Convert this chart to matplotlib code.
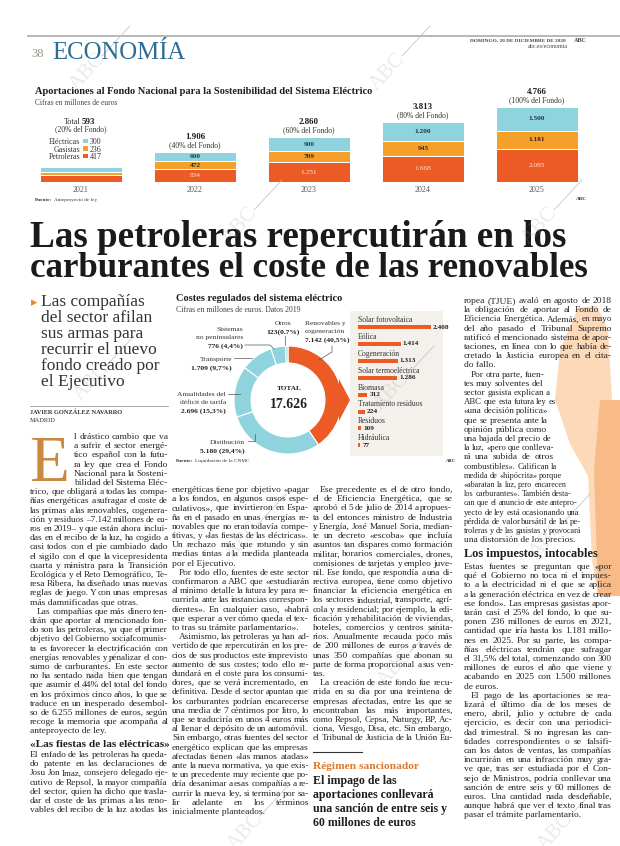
import matplotlib
matplotlib.use("Agg")
import matplotlib.pyplot as plt
from matplotlib.transforms import Affine2D
from matplotlib.patches import Polygon, Rectangle
from matplotlib.lines import Line2D

plt.rcParams["font.family"] = ["Liberation Serif", "DejaVu Serif", "DejaVu Sans"]

# ---- Aportaciones al Fondo (millones de euros)
anios = ["2021", "2022", "2023", "2024", "2025"]
electricas = [300, 600, 900, 1200, 1500]
gasistas = [236, 472, 709, 945, 1181]
petroleras = [417, 834, 1251, 1668, 2085]
totales = ["593", "1.906", "2.860", "3.813", "4.766"]
pct_fondo = [20, 40, 60, 80, 100]

# ---- Costes regulados del sistema electrico 2019
costes_cat = ["Renovables y\ncogeneración", "Distibución", "Anualidades del\ndéficit de tarifa",
              "Transporte", "Sistemas\nno peninsulares", "Otros"]
costes_val = [7142, 5180, 2696, 1709, 776, 123]
costes_lbl = ["7.142 (40,5%)", "5.180 (29,4%)", "2.696 (15,3%)", "1.709 (9,7%)", "776 (4,4%)", "123(0.7%)"]
total_costes = "17.626"

# ---- desglose renovables y cogeneracion
renov_cat = ["Solar fotovoltaica", "Eólica", "Cogeneración", "Solar termoeléctrica", "Biomasa",
             "Tratamiento residuos", "Residuos", "Hidráulica"]
renov_val = [2408, 1414, 1313, 1286, 312, 224, 109, 77]

CY = "#8fd3de"
OR = "#f6a02c"
RD = "#ec5b25"
INK = "#262626"

W, H = 620, 846
fig = plt.figure(figsize=(W / 100, H / 100), dpi=100)
fig.patch.set_facecolor("white")
R = fig.canvas.get_renderer()
T = Affine2D().scale(1 / W, -1 / H).translate(0, 1) + fig.transFigure


def box(x0, y0, x1, y1):
    return [x0 / W, 1 - y1 / H, (x1 - x0) / W, (y1 - y0) / H]


def txt(x, y, s, size, color=INK, **kw):
    kw.setdefault("va", "baseline")
    return fig.text(x, y, s, fontsize=size, color=color, transform=T, **kw)


def ancho(t):
    return t.get_window_extent(R).width


def fit(t, width):
    t.set_fontsize(t.get_fontsize() * width / ancho(t))
    return t


def raya(xs, ys, color="#555555", lw=0.5):
    fig.add_artist(Line2D(xs, ys, transform=T, color=color, lw=lw))


def miles(v):
    return f"{v:,}".replace(",", ".")


def linea(x, y, s, width, size, justify, **kw):
    palabras = s.split()
    if not justify or len(palabras) < 2:
        t = txt(x, y, s, size, **kw)
        if ancho(t) > width:
            fit(t, width)
        return
    ts = [txt(x, y, p, size, **kw) for p in palabras]
    ws = [ancho(t) for t in ts]
    n = len(palabras) - 1
    gap = (width - sum(ws)) / n
    if gap < 1.6:
        k = (width - 1.6 * n) / sum(ws)
        for t in ts:
            t.set_fontsize(size * k)
        ws = [w * k for w in ws]
        gap = 1.6
    xx = x
    for t, w in zip(ts, ws):
        t.set_x(xx)
        xx += w + gap


def bloque(lineas, x0, x1, y0, lh=9.2, size=6.8, fines=None):
    for i, s in enumerate(lineas):
        x = x0
        if s.startswith(">"):
            s = s[1:]
            x += 7
        justify = not s.endswith("|")
        s = s.rstrip("|")
        right = fines.get(i, x1) if fines else x1
        linea(x, y0 + i * lh, s, right - x, size, justify)


def fuente(x, y, s, size=3.8):
    t = txt(x, y, "Fuente:", size, fontweight="bold", color="#333")
    txt(x + ancho(t) + 2, y, s, size, color="#333")


# ---------------- cabecera
raya([28, 620], [36, 36], "#b8b8b8", 1.4)
txt(31, 57, "38", 9, color="#8f9c7d")
fit(txt(52, 59, "ECONOMÍA", 20, color="#2f6d95"), 133)
fit(txt(470, 42, "DOMINGO, 20 DE DICIEMBRE DE 2020", 4.3, fontweight="bold", color="#444"), 97)
txt(574, 42, "ABC", 4.3, fontweight="bold", color="#444")
txt(568, 48, "abc.es/economia", 4.3, ha="right", color="#444")

# ---------------- grafico superior
fit(txt(35, 94, "Aportaciones al Fondo Nacional para la Sostenibilidad del Sistema Eléctrico", 9,
        fontweight="bold", color="#1e1e1e"), 336)
fit(txt(35, 105, "Cifras en millones de euros", 5, color="#444"), 83)

ax_t = fig.add_axes(box(24, 95, 594, 182))
x = list(range(len(anios)))
base2 = [p + g for p, g in zip(petroleras, gasistas)]
tope = [b + e for b, e in zip(base2, electricas)]
ax_t.bar(x, petroleras, 0.715, color=RD, edgecolor="white", linewidth=0.7)
ax_t.bar(x, gasistas, 0.715, bottom=petroleras, color=OR, edgecolor="white", linewidth=0.7)
ax_t.bar(x, electricas, 0.715, bottom=base2, color=CY, edgecolor="white", linewidth=0.7)
ax_t.set_xlim(-0.5, 4.5)
ax_t.set_ylim(0, 5530)
ax_t.axis("off")

for i in x:
    ax_t.annotate(anios[i], (i, 0), xytext=(0, -9.5), textcoords="offset pixels", ha="center",
                  va="baseline", fontsize=5.8, color="#555")
    if i == 0:
        continue
    for v, b, c, fw in [(petroleras[i], 0, "#fde3d0", "normal"),
                        (gasistas[i], petroleras[i], "#3b2a14", "bold"),
                        (electricas[i], base2[i], "#213c44", "bold")]:
        ax_t.text(i, b + v / 2, miles(v), ha="center", va="center", fontsize=5.3, color=c, fontweight=fw)
    ax_t.annotate(f"({pct_fondo[i]}% del Fondo)", (i, tope[i]), xytext=(0, 4.5), textcoords="offset pixels",
                  ha="center", va="baseline", fontsize=5.5, color="#333")
    ax_t.annotate(totales[i], (i, tope[i]), xytext=(0, 13), textcoords="offset pixels",
                  ha="center", va="baseline", fontsize=6.4, color="#1e1e1e", fontweight="bold")

# bloque 2021 con leyenda
ax_t.annotate(f"({pct_fondo[0]}% del Fondo)", (0, tope[0]), xytext=(0, 36), textcoords="offset pixels",
              ha="center", va="baseline", fontsize=5.5, color="#333")
txt(80, 124, "Total", 5.9, ha="right", color="#333")
txt(82, 124, totales[0], 6.4, fontweight="bold", color="#1e1e1e")
for k, (nom, val, col) in enumerate(zip(["Eléctricas", "Gasistas", "Petroleras"],
                                        [electricas[0], gasistas[0], petroleras[0]], [CY, OR, RD])):
    yb = 144 + k * 7.5
    txt(80, yb, nom, 5.7, ha="right", color="#333")
    fig.add_artist(Rectangle((83, yb - 5), 4.5, 4.5, transform=T, color=col, lw=0))
    txt(90, yb, str(val), 5.7, color="#333")

fuente(35, 201, "Anteproyecto de ley")
txt(576, 200, "ABC", 3.8, fontweight="bold", color="#333")

# ---------------- titular
fit(txt(30, 247, "Las petroleras repercutirán en los", 28, fontweight="bold", color="#1a1a1a"), 537)
fit(txt(30, 277, "carburantes el coste de las renovables", 28, fontweight="bold", color="#1a1a1a"), 560)

# ---------------- sumario
txt(31, 306, "▸", 9, color="#e8892c", family="DejaVu Sans")
for k, s in enumerate(["Las compañías", "del sector afilan", "sus armas para", "recurrir el nuevo",
                       "fondo creado por", "el Ejecutivo"]):
    txt(41, 306 + k * 16, s, 12.5, color="#333")
raya([30, 168], [406, 406], "#999", 0.6)
txt(30, 414, "JAVIER GONZÁLEZ NAVARRO", 4.6, fontweight="bold", color="#333")
txt(30, 422, "MADRID", 4.6, color="#333")

# ---------------- donut
cx, cy, r = 288, 400, 54
ax_d = fig.add_axes(box(cx - 60, cy - 60, cx + 60, cy + 60))
ax_d.pie(costes_val, colors=[RD] + [CY] * 5, startangle=90, counterclock=False, radius=1,
         wedgeprops=dict(width=0.315, edgecolor="white", linewidth=0.8))
ax_d.set_xlim(-60 / r, 60 / r)
ax_d.set_ylim(-60 / r, 60 / r)
fig.add_artist(Polygon([(339, 379), (350, 400), (339, 421)], transform=T, color=RD, lw=0))

fit(txt(176, 301, "Costes regulados del sistema eléctrico", 7, fontweight="bold", color="#1e1e1e"), 167)
fit(txt(176, 312, "Cifras en millones de euros. Datos 2019", 5, color="#444"), 125)
txt(cx + 1, 390, "TOTAL", 5.2, ha="center", fontweight="bold", color="#222")
txt(cx + 1, 408, total_costes, 10, ha="center", fontweight="bold", color="#222")

# etiquetas: (x, y primera linea, alineacion)
pos = [(305, 325, "left"), (245, 444, "right"), (226, 396, "right"),
       (232, 361, "right"), (243, 331, "right"), (283, 325, "center")]
for cat, lbl, (lx, ly, ha) in zip(costes_cat, costes_lbl, pos):
    partes = cat.split("\n")
    for k, p in enumerate(partes):
        txt(lx, ly + k * 8.5, p, 5.4, ha=ha, color="#333")
    txt(lx, ly + len(partes) * 8.5, lbl, 5.4, ha=ha, fontweight="bold", color="#222")
raya([332, 332, 319], [346, 352, 360])
raya([285, 285], [336, 345])
raya([245, 270, 274], [345, 345, 349])
raya([234, 252], [358, 358])
raya([228, 240], [394, 394])
raya([248, 255, 255], [441, 441, 434])
fuente(176, 462, "Liquidación de la CNMC")

# ---------------- barras renovables
ax_b = fig.add_axes(box(350, 311, 443, 456))
ax_b.set_facecolor("#f4f1ec")
yy = list(range(len(renov_cat)))
ax_b.barh(yy, renov_val, height=0.24, color=RD)
ax_b.set_xlim(-264, 2804)
ax_b.set_ylim(7.63, -0.95)
for s in ax_b.spines.values():
    s.set_visible(False)
ax_b.set_xticks([])
ax_b.set_yticks([])
for i, (c, v) in zip(yy, zip(renov_cat, renov_val)):
    ax_b.text(0, i - 0.3, c, va="baseline", fontsize=5.5, color="#333")
    ax_b.annotate(miles(v), (v, i), xytext=(2, 0), textcoords="offset pixels", va="center",
                  fontsize=5.2, fontweight="bold", color="#222")
txt(446, 462, "ABC", 3.4, fontweight="bold", color="#333")

# ---------------- decoracion naranja (columna 4)
fig.add_artist(Polygon([(578, 308), (597, 306), (608, 330), (612, 400), (620, 400), (620, 596),
                        (598, 596), (592, 560), (588, 476), (570, 444), (555, 400), (560, 350)],
                       transform=T, color="#fcd9b8", lw=0))
fig.add_artist(Polygon([(600, 400), (620, 400), (620, 596), (598, 596), (594, 470)],
                       transform=T, color="#f8bb88", lw=0))

# ---------------- texto
col1_cap = ["l drástico cambio que va", "a sufrir el sector energé-", "tico español con la futu-",
            "ra ley que crea el Fondo", "Nacional para la Sosteni-", "bilidad del Sistema Eléc-"]
col1 = ["trico, que obligará a todas las compa-", "ñías energéticas a sufragar el coste de",
        "las primas a las renovables, cogenera-", "ción y residuos –7.142 millones de eu-",
        "ros en 2019– y que están ahora inclui-", "das en el recibo de la luz, ha cogido a",
        "casi todos con el pie cambiado dado", "el sigilo con el que la vicepresidenta",
        "cuarta y ministra para la Transición", "Ecológica y el Reto Demográfico, Te-",
        "resa Ribera, ha diseñado unas nuevas", "reglas de juego. Y con unas empresas",
        "más damnificadas que otras.|", ">Las compañías que más dinero ten-",
        "drán que aportar al mencionado fon-", "do son las petroleras, ya que el primer",
        "objetivo del Gobierno socialcomunis-", "ta es favorecer la electrificación con",
        "energías renovables y penalizar el con-", "sumo de carburantes. En este sector",
        "no ha sentado nada bien que tengan", "que asumir el 44% del total del fondo",
        "en los próximos cinco años, lo que se", "traduce en un inesperado desembol-",
        "so de 6.255 millones de euros, según", "recoge la memoria que acompaña al",
        "anteproyecto de ley.|"]
col1_fin = ["El enfado de las petroleras ha queda-", "do patente en las declaraciones de",
            "Josu Jon Imaz, consejero delegado eje-", "cutivo de Repsol, la mayor compañía",
            "del sector, quien ha dicho que trasla-", "dar el coste de las primas a las reno-",
            "vables del recibo de la luz a todas las"]
col2 = ["energéticas tiene por objetivo «pagar", "a los fondos, en algunos casos espe-",
        "culativos», que invirtieron en Espa-", "ña en el pasado en unas energías re-",
        "novables que no eran todavía compe-", "titivas, y «las fiestas de las eléctricas».",
        "Un rechazo más que rotundo y sin", "medias tintas a la medida planteada",
        "por el Ejecutivo.|", ">Por todo ello, fuentes de este sector",
        "confirmaron a ABC que «estudiarán", "al mínimo detalle la futura ley para re-",
        "currirla ante las instancias correspon-", "dientes». En cualquier caso, «habrá",
        "que esperar a ver cómo queda el tex-", "to tras su trámite parlamentario».|",
        ">Asimismo, las petroleras ya han ad-", "vertido de que repercutirán en los pre-",
        "cios de sus productos este imprevisto", "aumento de sus costes; todo ello re-",
        "dundará en el coste para los consumi-", "dores, que se verá incrementado, en",
        "definitiva. Desde el sector apuntan que", "los carburantes podrían encarecerse",
        "una media de 7 céntimos por litro, lo", "que se traduciría en unos 4 euros más",
        "al llenar el depósito de un automóvil.", "Sin embargo, otras fuentes del sector",
        "energético explican que las empresas", "afectadas tienen «las manos atadas»",
        "ante la nueva normativa, ya que exis-", "te un precedente muy reciente que po-",
        "dría desanimar a esas compañías a re-", "currir la nueva ley, si termina por sa-",
        "lir adelante en los términos", "inicialmente planteados.|"]
col3 = [">Ese precedente es el de otro fondo,", "el de Eficiencia Energética, que se",
        "aprobó el 5 de julio de 2014 a propues-", "ta del entonces ministro de Industria",
        "y Energía, José Manuel Soria, median-", "te un decreto «escoba» que incluía",
        "asuntos tan dispares como formación", "militar, horarios comerciales, drones,",
        "comisiones de tarjetas y empleo juve-", "nil. Ese fondo, que respondía a una di-",
        "rectiva europea, tiene como objetivo", "financiar la eficiencia energética en",
        "los sectores industrial, transporte, agrí-", "cola y residencial; por ejemplo, la edi-",
        "ficación y rehabilitación de viviendas,", "hoteles, comercios y centros sanita-",
        "rios. Anualmente recauda poco más", "de 200 millones de euros a través de",
        "unas 350 compañías que abonan su", "parte de forma proporcional a sus ven-",
        "tas.|", ">La creación de este fondo fue recu-", "rrida en su día por una treintena de",
        "empresas afectadas, entre las que se", "encontraban las más importantes,",
        "como Repsol, Cepsa, Naturgy, BP, Ac-", "ciona, Viesgo, Disa, etc. Sin embargo,",
        "el Tribunal de Justicia de la Unión Eu-"]
col4 = ["ropea (TJUE) avaló en agosto de 2018", "la obligación de aportar al Fondo de",
        "Eficiencia Energética. Además, en mayo", "del año pasado el Tribunal Supremo",
        "ratificó el mencionado sistema de apor-", "taciones, en línea con lo que había de-",
        "cretado la Justicia europea en el cita-", "do fallo.|", ">Por otra parte, fuen-",
        "tes muy solventes del", "sector gasista explican a", "ABC que esta futura ley es",
        "«una decisión política»", "que se presenta ante la", "opinión pública como",
        "una bajada del precio de", "la luz, «pero que conlleva-", "rá una subida de otros",
        "combustibles». Califican la", "medida de «hipócrita» porque", "«abaratan la luz, pero encarecen",
        "los carburantes». También desta-", "can que el anuncio de este antepro-",
        "yecto de ley está ocasionando una", "pérdida de valor bursátil de las pe-",
        "troleras y de las gasistas y provocará", "una distorsión de los precios.|"]
col4_fines = dict(zip(range(8, 26), [545, 543, 550, 556, 548, 548, 547, 551, 554, 554, 557, 562,
                                       567, 572, 578, 579, 581, 582]))
col4_fin = ["Estas fuentes se preguntan que «por", "qué el Gobierno no toca ni el impues-",
            "to a la electricidad ni el que se aplica", "a la generación eléctrica en vez de crear",
            "ese fondo». Las empresas gasistas apor-", "tarán casi el 25% del fondo, lo que su-",
            "ponen 236 millones de euros en 2021,", "cantidad que iría hasta los 1.181 millo-",
            "nes en 2025. Por su parte, las compa-", "ñías eléctricas tendrán que sufragar",
            "el 31,5% del total, comenzando con 300", "millones de euros el año que viene y",
            "acabando en 2025 con 1.500 millones", "de euros.|", ">El pago de las aportaciones se rea-",
            "lizará el último día de los meses de", "enero, abril, julio y octubre de cada",
            "ejercicio, es decir con una periodici-", "dad trimestral. Si no ingresan las can-",
            "tidades correspondientes o se falsifi-", "can los datos de ventas, las compañías",
            "incurrirán en una infracción muy gra-", "ve que, tras ser estudiada por el Con-",
            "sejo de Ministros, podría conllevar una", "sanción de entre seis y 60 millones de",
            "euros. Una cantidad nada desdeñable,", "aunque habrá que ver el texto final tras",
            "pasar el trámite parlamentario.|"]

txt(29, 481, "E", 47, color="#c9893f")
bloque(col1_cap, 74, 168, 439)
bloque(col1, 30, 168, 439 + 6 * 9.2)
fit(txt(30, 747, "«Las fiestas de las eléctricas»", 8.5, fontweight="bold", color="#1e1e1e"), 138)
bloque(col1_fin, 30, 168, 757)
bloque(col2, 172, 309, 492)
bloque(col3, 313, 453, 492)
bloque(col4, 464, 612, 303, fines=col4_fines)
fit(txt(464, 557, "Los impuestos, intocables", 8.5, fontweight="bold", color="#1e1e1e"), 132)
bloque(col4_fin, 464, 612, 569)

# despiece
raya([313, 362], [752, 752], "#333", 0.8)
txt(313, 769, "Régimen sancionador", 8.2, fontweight="bold", color="#e0782a")
for k, s in enumerate(["El impago de las", "aportaciones conllevará", "una sanción de entre seis y",
                       "60 millones de euros"]):
    txt(313, 784 + k * 14, s, 8.6, fontweight="bold", color="#1e1e1e")

# marcas de agua ABC
for wx, wy in [(88, 72), (388, 72), (240, 226), (540, 226), (92, 382), (392, 392),
               (244, 540), (548, 540), (92, 680), (396, 668), (246, 832), (556, 832)]:
    txt(wx, wy, "ABC", 15, color="#a0a0a0", ha="center", va="center", rotation=48, alpha=0.22, zorder=20)
    raya([wx + 14, wx + 42], [wy - 16, wy - 46], "#bdbdbd", 0.5)

fig.savefig("out.png", dpi=100, facecolor="white")
